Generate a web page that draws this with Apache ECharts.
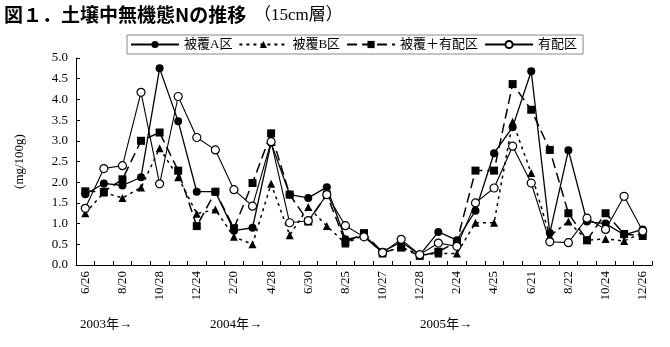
<!DOCTYPE html>
<html>
<head>
<meta charset="utf-8">
<script src="https://cdn.jsdelivr.net/npm/echarts@6/dist/echarts.min.js"></script>
<style>
  html, body { margin: 0; padding: 0; background: #fff; }
  #chart { width: 670px; height: 347px; }
</style>
</head>
<body>
<div id="chart"></div>
<script>
// Sampling-date tick labels (one label on every other sampling date)
const tickLabels = ['6/26', '8/20', '10/28', '12/24', '2/20', '4/28', '6/30', '8/25',
                    '10/27', '12/28', '2/24', '4/25', '6/21', '8/22', '10/24', '12/26'];
const yearLabels = ['2003年→', '2004年→', '2005年→'];

// Inorganic N in soil, 15 cm layer (mg/100g), 31 sampling dates
const seriesNames = ['被覆A区', '被覆B区', '被覆＋有配区', '有配区'];
const coatedA = [1.71, 1.97, 1.92, 2.12, 4.75, 3.47, 1.77, 1.77, 0.83, 0.90, 2.95,
                 1.70, 1.62, 1.88, 0.62, 0.70, 0.32, 0.56, 0.24, 0.80, 0.60,
                 1.31, 2.70, 3.33, 4.68, 0.77, 2.77, 1.05, 1.00, 0.73, 0.86];
const coatedB = [1.25, 1.75, 1.62, 1.87, 2.82, 2.12, 1.24, 1.34, 0.68, 0.50, 1.96,
                 0.72, 1.40, 0.94, 0.52, 0.72, 0.28, 0.44, 0.24, 0.28, 0.28,
                 1.02, 1.02, 3.46, 2.22, 0.70, 1.05, 0.60, 0.63, 0.58, 0.78];
const coatedPlus = [1.78, 1.77, 2.07, 3.00, 3.20, 2.28, 0.94, 1.77, 0.89, 1.98, 3.18,
                    1.70, 1.05, 1.70, 0.55, 0.77, 0.30, 0.42, 0.22, 0.32, 0.56,
                    2.28, 2.28, 4.37, 3.75, 2.78, 1.25, 0.60, 1.25, 0.75, 0.70];
const manured = [1.37, 2.33, 2.40, 4.17, 1.96, 4.07, 3.08, 2.78, 1.82, 1.42, 2.98,
                 1.02, 1.07, 1.70, 0.95, 0.68, 0.30, 0.62, 0.25, 0.53, 0.45,
                 1.50, 1.86, 2.87, 1.98, 0.56, 0.54, 1.13, 0.86, 1.66, 0.82];

// Category axis: labelled dates on even slots, unlabelled dates between them
const categories = [];
for (let i = 0; i < tickLabels.length; i++) {
  categories.push(tickLabels[i]);
  if (i < tickLabels.length - 1) categories.push('');
}

const serif = "'Liberation Serif', 'Noto Sans CJK JP', serif";
const gothic = "'Noto Sans CJK JP', sans-serif";

const chart = echarts.init(document.getElementById('chart'), null, { renderer: 'canvas' });

function lineSeries(name, data, symbol, dash, filled, width) {
  return {
    name: name,
    type: 'line',
    data: data,
    symbol: symbol,
    symbolSize: 8,
    showAllSymbol: true,
    animation: false,
    lineStyle: { color: '#000', width: width, type: dash },
    itemStyle: filled
      ? { color: '#000', borderWidth: 0 }
      : { color: '#fff', borderColor: '#000', borderWidth: 1.2, opacity: 1 },
    emphasis: { disabled: true }
  };
}

chart.setOption({
  backgroundColor: '#fff',
  animation: false,
  grid: { left: 76, right: 18, top: 58, bottom: 82 },
  legend: {
    top: 35,
    left: 127,
    itemWidth: 48,
    itemHeight: 9,
    itemGap: 6,
    padding: [3, 6, 3, 3],
    borderColor: '#888',
    borderWidth: 1,
    textStyle: { fontFamily: serif, fontSize: 13, color: '#000' },
    data: seriesNames
  },
  xAxis: {
    type: 'category',
    data: categories,
    boundaryGap: true,
    axisLine: { lineStyle: { color: '#000', width: 1 } },
    axisTick: { show: true, inside: true, length: 4, interval: 0, lineStyle: { color: '#000' } },
    axisLabel: {
      interval: 0,
      rotate: 90,
      margin: 6,
      fontFamily: serif,
      fontSize: 13,
      color: '#000'
    }
  },
  yAxis: {
    type: 'value',
    min: 0,
    max: 5,
    interval: 0.5,
    name: '(mg/100g)',
    nameLocation: 'middle',
    nameGap: 50,
    nameRotate: 90,
    nameTextStyle: { fontFamily: serif, fontSize: 13, color: '#000' },
    axisLine: { show: true, lineStyle: { color: '#000', width: 1 } },
    axisTick: { show: true, inside: true, length: 4, lineStyle: { color: '#000' } },
    splitLine: { show: false },
    axisLabel: {
      fontFamily: serif,
      fontSize: 13,
      color: '#000',
      margin: 8,
      formatter: v => v.toFixed(1)
    }
  },
  series: [
    lineSeries(seriesNames[0], coatedA, 'circle', 'solid', true, 1.3),
    lineSeries(seriesNames[1], coatedB, 'triangle', [3, 4], true, 1.5),
    lineSeries(seriesNames[2], coatedPlus, 'rect', [10, 5], true, 1.5),
    lineSeries(seriesNames[3], manured, 'circle', 'solid', false, 1.1)
  ],
  graphic: [
    {
      type: 'text',
      left: 4,
      top: 5,
      style: { text: '図１．土壌中無機態Nの推移', font: "bold 19px " + gothic, fill: '#000' }
    },
    {
      type: 'text',
      left: 254,
      top: 7,
      style: { text: '（15cm層）', font: "17px " + serif, fill: '#000' }
    },
    { type: 'text', left: 80, top: 318, style: { text: yearLabels[0], font: "13px " + serif, fill: '#000' } },
    { type: 'text', left: 210, top: 318, style: { text: yearLabels[1], font: "13px " + serif, fill: '#000' } },
    { type: 'text', left: 420, top: 318, style: { text: yearLabels[2], font: "13px " + serif, fill: '#000' } }
  ]
});
</script>
</body>
</html>
